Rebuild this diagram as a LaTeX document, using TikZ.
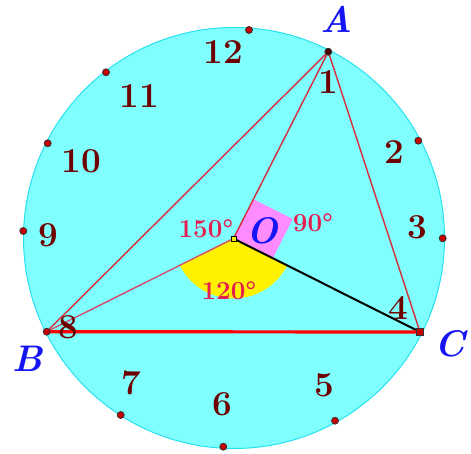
\documentclass[tikz,border=0pt]{standalone}
\usepackage{fontspec}
\usetikzlibrary{calc}
\definecolor{cyanfill}{RGB}{128,255,255}
\definecolor{cyanline}{RGB}{40,225,240}
\definecolor{numcol}{RGB}{110,0,0}
\definecolor{angcol}{RGB}{230,30,80}
\definecolor{segcol}{RGB}{215,45,60}
\definecolor{obcol}{RGB}{210,80,110}
\definecolor{sqcol}{RGB}{255,140,255}
\definecolor{ptblue}{RGB}{20,20,245}
\definecolor{dotcol}{RGB}{200,0,0}
\tikzset{
  hournum/.style={text=numcol,font=\fontsize{35}{35}\selectfont\bfseries,inner sep=0pt},
  vlabel/.style={text=ptblue,font=\fontsize{37}{37}\selectfont\bfseries\itshape,inner sep=0pt},
  anglabel/.style={text=angcol,font=\fontsize{26}{26}\selectfont\bfseries,inner sep=0pt},
  hourdot/.style={circle,fill=dotcol,draw=black!80,line width=0.8pt,inner sep=0pt,minimum size=7pt},
  thinseg/.style={draw=segcol,line width=1.4pt},
}
\begin{document}
\begin{tikzpicture}[x=1pt,y=-1pt]
\useasboundingbox (0,0) rectangle (471,454);
\coordinate (O) at (233.5,238.5);
\coordinate (A) at (328.3,51.7);
\coordinate (B) at (46.7,331.7);
\coordinate (C) at (420,332);
% disc
\fill[cyanfill] (234,238) circle[radius=210.5];
\draw[cyanline,line width=1pt] (234,238) circle[radius=210.5];
% 120 sector
\fill[yellow] (O) -- ($(O)!60pt!(C)$) arc[start angle=26.63,end angle=153.48,radius=60] -- cycle;
% right angle square
\coordinate (P1) at ($(O)!44pt!(A)$);
\coordinate (P3) at ($(O)!44pt!(C)$);
\coordinate (P2) at ($(P1)+(P3)-(O)$);
\fill[sqcol] (O) -- (P1) -- (P2) -- (P3) -- cycle;
% segments
\draw[thinseg] (A) -- (B);
\draw[thinseg] (A) -- (C);
\draw[thinseg] (O) -- (A);
\draw[draw=obcol,line width=1.4pt] (O) -- (B);
\draw[black,line width=2pt] (O) -- (C);
\draw[red,line width=3.2pt] (B) -- (C);
% hour dots
\node[hourdot] (d12) at (249,30) {};
\node[hourdot] (d11) at (106,72.3) {};
\node[hourdot] (d10) at (47.7,143.3) {};
\node[hourdot] (d9) at (23.3,231) {};
\node[hourdot] (d2) at (418.3,140.7) {};
\node[hourdot] (d3) at (442.7,238.3) {};
\node[hourdot] (d5) at (335,420.7) {};
\node[hourdot] (d6) at (223.3,446.7) {};
\node[hourdot] (d7) at (120.7,415) {};
\node[hourdot,fill=numcol!70!black] (dA) at (A) {};
\node[hourdot] (dB) at (B) {};
\node[hourdot,rectangle,minimum size=6.5pt] (dC) at (C) {};
\node[rectangle,fill=yellow,draw=black,line width=0.8pt,inner sep=0pt,minimum size=5pt] (dO) at (O) {};
% hour numbers
\node[hournum] (n12) at (223,52.5) {12};
\node[hournum] (n11) at (139.5,96.5) {11};
\node[hournum] (n10) at (81,161) {10};
\node[hournum] (n9) at (48,235.5) {9};
\node[hournum] (n1) at (328,82.5) {1};
\node[hournum] (n2) at (394.5,152.5) {2};
\node[hournum] (n3) at (417,227.5) {3};
\node[hournum] (n4) at (398.5,308) {4};
\node[hournum] (n5) at (324,385.5) {5};
\node[hournum] (n6) at (222,404.5) {6};
\node[hournum] (n7) at (131.5,382.5) {7};
\node[hournum] (n8) at (68,327.5) {8};
% vertex labels
\node[vlabel] (lA) at (337,19.5) {A};
\node[vlabel] (lB) at (28,358.5) {B};
\node[vlabel] (lC) at (450,344) {C};
\node[vlabel] (lO) at (262,231) {O};
% angle labels
\node[anglabel] (a150) at (206,228.5) {150°};
\node[anglabel] (a90) at (313,222.5) {90°};
\node[anglabel] (a120) at (229,291) {120°};
\end{tikzpicture}
\end{document}
